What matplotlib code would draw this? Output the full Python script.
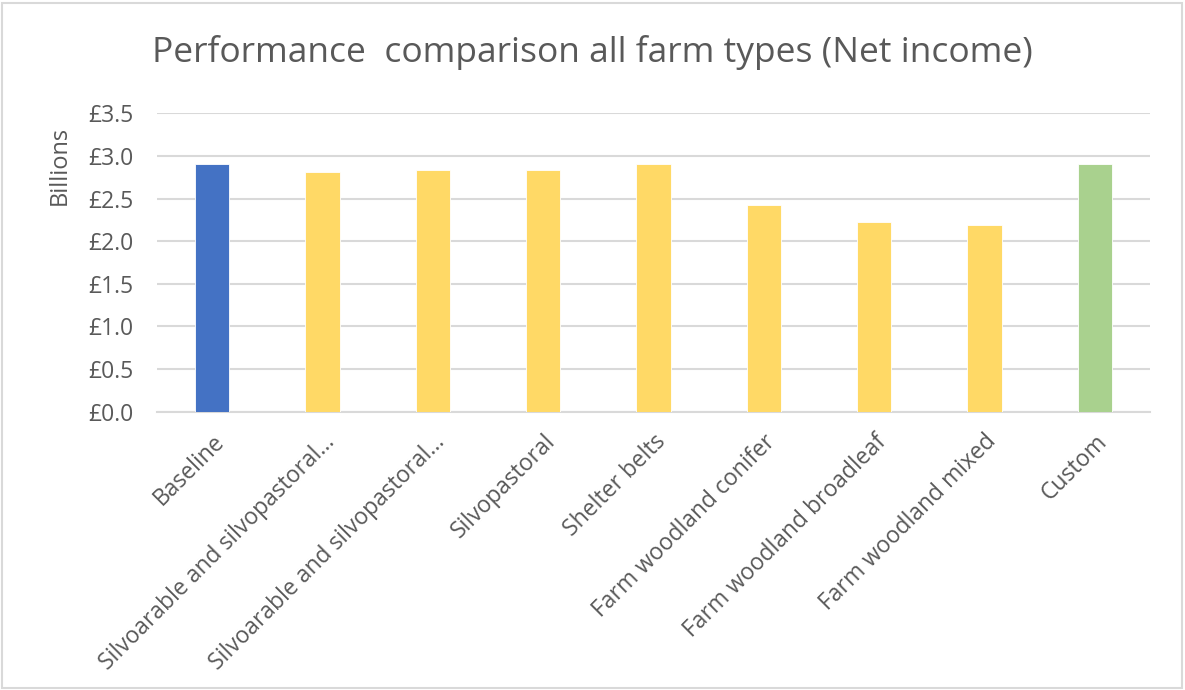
import matplotlib
matplotlib.use("Agg")
import matplotlib.pyplot as plt
from matplotlib.patches import Rectangle
from matplotlib.ticker import FuncFormatter

categories = ["Baseline", "Silvoarable and silvopastoral...", "Silvoarable and silvopastoral...",
              "Silvopastoral", "Shelter belts", "Farm woodland conifer",
              "Farm woodland broadleaf", "Farm woodland mixed", "Custom"]
values = [2.91, 2.81, 2.83, 2.83, 2.91, 2.43, 2.23, 2.19, 2.91]
colors = ["#4472C4"] + ["#FFD966"] * 7 + ["#A9D18E"]
yticks = [0.0, 0.5, 1.0, 1.5, 2.0, 2.5, 3.0, 3.5]

plt.rcParams['font.family'] = ['Open Sans', 'DejaVu Sans']
W, H = 1185, 690
fig = plt.figure(figsize=(W / 100, H / 100), dpi=100)
fig.patches.append(Rectangle((2 / W, 2 / H), 1 - 5 / W, 1 - 5 / H, transform=fig.transFigure,
                             fill=False, edgecolor="#D9D9D9", linewidth=1.5))

ax = fig.add_axes([157 / W, 1 - 411.7 / H, (1150 - 157) / W, (411.7 - 113.3) / H])
x = list(range(len(categories)))
ax.bar(x, values, width=0.31, color=colors, edgecolor="white", linewidth=0.6, zorder=3)
ax.set_xlim(-0.5, len(categories) - 0.5)
ax.set_ylim(0, 3.5)
ax.set_yticks(yticks)
ax.yaxis.set_major_formatter(FuncFormatter(lambda v, p: f"£{v:.1f}"))
ax.grid(axis="y", color="#D9D9D9", linewidth=1.5, zorder=0)
for s in ["top", "right", "left"]:
    ax.spines[s].set_visible(False)
ax.spines["bottom"].set_color("#D9D9D9")
ax.spines["bottom"].set_linewidth(1.5)
ax.tick_params(axis="both", length=0, colors="#595959")
ax.tick_params(axis="y", pad=17, labelsize=16.5)
ax.set_xticks(x)
ax.set_xticklabels(categories, rotation=45, ha="right", va="top", rotation_mode="anchor",
                   fontsize=16.5)
ax.tick_params(axis="x", pad=13)

fig.text(60 / W, 1 - 165 / H, "Billions", rotation=90, ha="center", va="center",
         fontsize=17, color="#595959")
fig.text(592 / W, 1 - 53 / H, "Performance  comparison all farm types (Net income)",
         ha="center", va="center", fontsize=25.5, color="#595959")

fig.savefig("out.png", dpi=100)
